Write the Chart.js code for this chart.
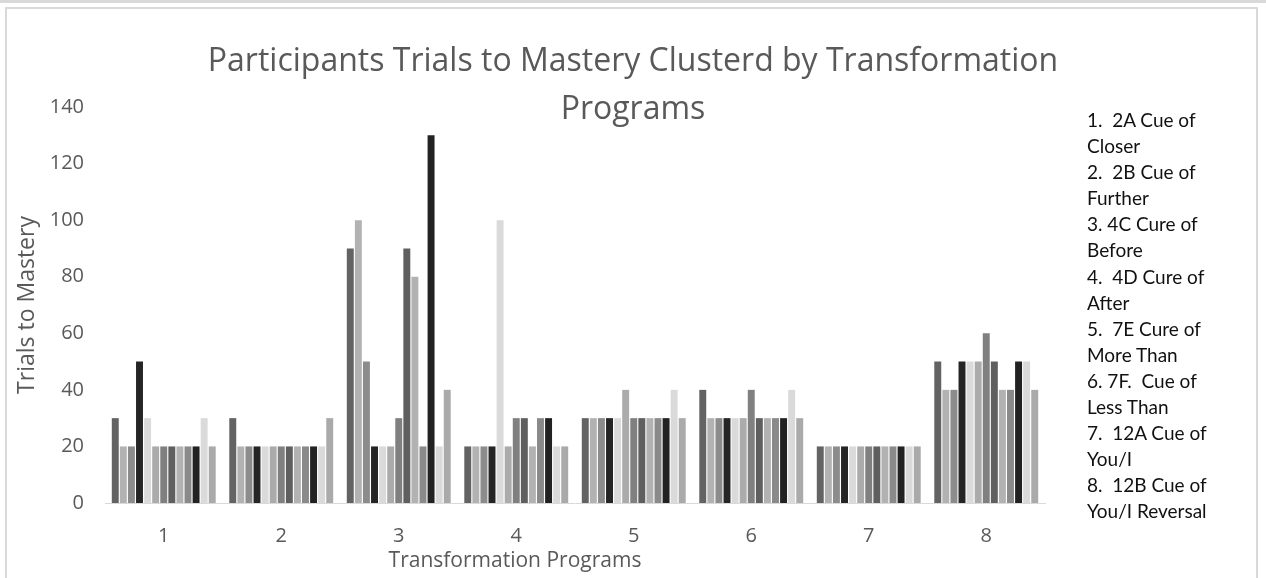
<!DOCTYPE html>
<html>
<head>
<meta charset="utf-8">
<script src="https://cdn.jsdelivr.net/npm/chart.js@4.4.1/dist/chart.umd.min.js"></script>
<style>
  html, body { margin: 0; padding: 0; background: #ffffff; }
  body { width: 1266px; height: 578px; overflow: hidden; position: relative; }
  #topband { position: absolute; left: 0; top: 0; width: 1266px; height: 3px; background: #d9d9d9; }
  #frame { position: absolute; left: 5px; top: 7px; width: 1253px; height: 600px; border: 2px solid #d9d9d9; box-sizing: border-box; }
  #chart { position: absolute; left: 0; top: 0; }
  #title { position: absolute; left: 0; top: 35px; width: 1266px; text-align: center;
           font-family: "Open Sans", sans-serif; font-size: 32px; line-height: 48px; color: #595959; }
  #xtitle { position: absolute; left: 315px; top: 547px; width: 400px; text-align: center;
           font-family: "Open Sans", sans-serif; font-size: 21px; line-height: 24px; color: #595959; }
  #notes { position: absolute; left: 1087px; top: 107px; font-family: Lato, "Open Sans", sans-serif;
           font-size: 19px; line-height: 26.1px; color: #111111; white-space: pre; }
</style>
</head>
<body>
<div id="topband"></div>
<div id="frame"></div>
<canvas id="chart" width="1266" height="578"></canvas>
<div id="title">Participants Trials to Mastery Clusterd by Transformation<br>Programs</div>
<div id="xtitle">Transformation Programs</div>
<div id="notes"></div>
<script>
// Categories (transformation programs)
const categories = ["1", "2", "3", "4", "5", "6", "7", "8"];

// Trials to mastery per participant (one array per participant, across programs 1..8)
const p1  = [30, 30,  90,  20, 30, 40, 20, 50];
const p2  = [20, 20, 100,  20, 30, 30, 20, 40];
const p3  = [20, 20,  50,  20, 30, 30, 20, 40];
const p4  = [50, 20,  20,  20, 30, 30, 20, 50];
const p5  = [30, 20,  20, 100, 30, 30, 20, 50];
const p6  = [20, 20,  20,  20, 40, 30, 20, 50];
const p7  = [20, 20,  30,  30, 30, 40, 20, 60];
const p8  = [20, 20,  90,  30, 30, 30, 20, 50];
const p9  = [20, 20,  80,  20, 30, 30, 20, 40];
const p10 = [20, 20,  20,  30, 30, 30, 20, 40];
const p11 = [20, 20, 130,  30, 30, 30, 20, 50];
const p12 = [30, 20,  20,  20, 40, 40, 20, 50];
const p13 = [20, 30,  40,  20, 30, 30, 20, 40];

// Y tick labels
const yTicks = [0, 20, 40, 60, 80, 100, 120, 140];

// Program key shown to the right of the chart
const programNotes = [
  "1.  2A Cue of", "Closer",
  "2.  2B Cue of", "Further",
  "3. 4C Cure of", "Before",
  "4.  4D Cure of", "After",
  "5.  7E Cure of", "More Than",
  "6. 7F.  Cue of", "Less Than",
  "7.  12A Cue of", "You/I",
  "8.  12B Cue of", "You/I Reversal"
];
document.getElementById("notes").textContent = programNotes.join("\n");

const series = [p1, p2, p3, p4, p5, p6, p7, p8, p9, p10, p11, p12, p13];
const colors = ["#636363", "#b2b2b2", "#8c8c8c", "#252525", "#dadada", "#ababab", "#808080",
                "#5f5f5f", "#b2b2b2", "#8a8a8a", "#222222", "#dadada", "#aaaaaa"];

const datasets = series.map((d, i) => ({
  label: "Participant " + (i + 1),
  data: d,
  backgroundColor: colors[i],
  borderWidth: 0,
  barPercentage: 0.86,
  categoryPercentage: 0.894
}));

new Chart(document.getElementById("chart"), {
  type: "bar",
  data: { labels: categories, datasets: datasets },
  options: {
    responsive: false,
    animation: false,
    devicePixelRatio: 1,
    layout: { padding: { top: 107, right: 221, bottom: 0, left: 0 } },
    plugins: { legend: { display: false }, title: { display: false }, tooltip: { enabled: false } },
    scales: {
      x: {
        grid: { display: false, drawTicks: false },
        border: { display: true, color: "#d9d9d9", width: 1 },
        ticks: { padding: 21, color: "#595959", font: { family: "Open Sans", size: 20 } },
        title: { display: false },
        afterFit: (s) => { s.height = 75; }
      },
      y: {
        min: 0, max: 140,
        afterBuildTicks: (s) => { s.ticks = yTicks.map(v => ({ value: v })); },
        grid: { display: false, drawTicks: false },
        border: { display: false },
        ticks: { padding: 21, color: "#595959", font: { family: "Open Sans", size: 20 } },
        title: { display: true, text: "Trials to Mastery", color: "#595959",
                 font: { family: "Open Sans", size: 23 }, padding: { top: 14, bottom: 0 } },
        afterFit: (s) => { s.width = 105; }
      }
    }
  }
});
</script>
</body>
</html>
